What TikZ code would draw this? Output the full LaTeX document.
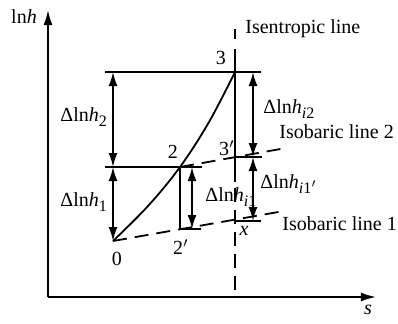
\documentclass[tikz,border=0pt]{standalone}
\usepackage{fontspec}
\setmainfont{Liberation Serif}
\usetikzlibrary{arrows.meta}
\newcommand{\lsub}[1]{\raisebox{-0.6ex}{\footnotesize #1}}
\newcommand{\dl}[1]{Δln\textit{h}\lsub{#1}}
\tikzset{
  ln/.style={line width=0.9pt},
  dim/.style={line width=0.9pt, {Latex[length=7pt,width=4.5pt]}-{Latex[length=7pt,width=4.5pt]}},
  dsh/.style={line width=0.9pt, dash pattern=on 7pt off 4pt},
  lbl/.style={inner sep=0pt, font=\fontsize{10}{12}\selectfont},
}
\begin{document}
\begin{tikzpicture}[x=0.5pt,y=-0.5pt]
\useasboundingbox (0,0) rectangle (398,323);
% axes
\coordinate (org) at (48,297);
\coordinate (ytop) at (48,10);
\coordinate (xend) at (376,297);
\draw[ln, -{Latex[length=7.5pt,width=4.5pt]}] (org) -- (ytop);
\draw[ln, -{Latex[length=7.5pt,width=4.5pt]}] (org) -- (xend);
\node[lbl] (lnh) at (24,17) {ln\textit{h}};
\node[lbl] (s) at (368,310) {\textit{s}};
% points
\coordinate (O) at (113,241);
\coordinate (P2) at (180,167);
\coordinate (P3) at (235,72);
\coordinate (P3p) at (235,157);
\coordinate (P2p) at (180,229);
\coordinate (X) at (235,220);
% isentropic line
\coordinate (it) at (235,29);
\coordinate (ia) at (235,49);
\coordinate (ib) at (235,182);
\coordinate (ibot) at (235,297);
\draw[ln] (it) -- (235,39);
\draw[ln] (ia) -- (ib);
\draw[dsh] (235,188) -- (ibot);
% isobaric lines
\coordinate (L1e) at (284,211);
\coordinate (L2e) at (286,148);
\draw[dsh] (O) -- (L1e);
\draw[dsh] (P2) -- (L2e);
% curve
\draw[ln] plot[smooth, tension=0.6] coordinates {(113,241) (148,206) (180,167) (209,122) (235,72)};
% horizontal lines
\coordinate (h3a) at (105,72);   \coordinate (h3b) at (261,72);
\coordinate (h2a) at (105,167);  \coordinate (h2b) at (202,167);
\coordinate (h3pb) at (262,157);
\coordinate (hxb) at (261,221);
\coordinate (h2pb) at (201,229);
\draw[ln] (h3a) -- (h3b);
\draw[ln] (h2a) -- (h2b);
\draw[ln] (P3p) -- (h3pb);
\draw[ln] (235,221) -- (hxb);
\draw[ln] (P2) -- (P2p) -- (h2pb);
% dimension arrows
\draw[dim] (113,72) -- (113,167);
\draw[dim] (113,167) -- (O);
\draw[dim] (253,72) -- (253,157);
\draw[dim] (253,157) -- (253,221);
\draw[dim] (192,167) -- (192,229);
% labels
\node[lbl, anchor=base west] (d2) at (60,121) {\dl{2}};
\node[lbl, anchor=base west] (d1) at (60,206) {\dl{1}};
\node[lbl, anchor=base west] (di2) at (263,113) {\dl{\textit{i}2}};
\node[lbl, anchor=base west] (di1) at (205,201) {\dl{\textit{i}1}};
\node[lbl, anchor=base west] (di1p) at (260,188) {\dl{\textit{i}1$'$}};
\node[lbl, anchor=base west] (isen) at (245,33) {Isentropic line};
\node[lbl, anchor=base west] (iso2) at (279,138) {Isobaric line 2};
\node[lbl, anchor=base west] (iso1) at (282,230) {Isobaric line 1};
\node[lbl] (n3) at (221,58) {3};
\node[lbl] (n3p) at (227,148) {3$'$};
\node[lbl] (n2) at (173,152) {2};
\node[lbl] (n2p) at (181,247) {2$'$};
\node[lbl] (n0) at (117,259) {0};
\node[lbl] (nx) at (244,231) {\textit{x}};
\end{tikzpicture}
\end{document}
